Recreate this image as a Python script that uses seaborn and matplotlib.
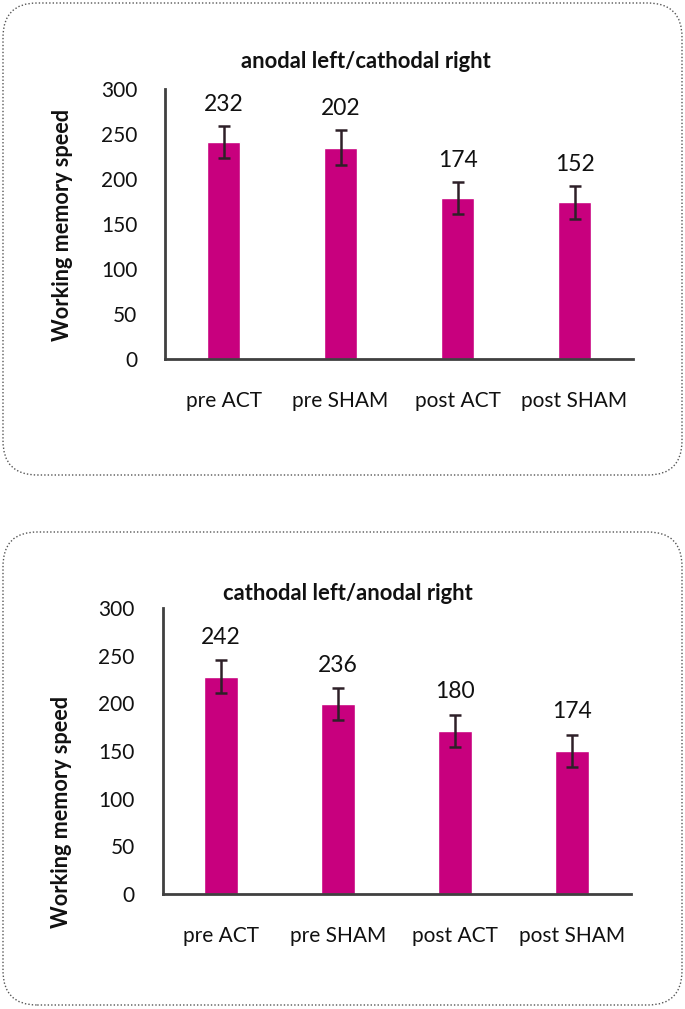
import matplotlib
matplotlib.use("Agg")
import matplotlib.pyplot as plt
import seaborn as sns
import pandas as pd
import numpy as np
from matplotlib.patches import FancyBboxPatch

categories = ["pre ACT", "pre SHAM", "post ACT", "post SHAM"]

# top panel: anodal left / cathodal right
top_title = "anodal left/cathodal right"
top_values = [241, 235, 179, 174]
top_errors = [18, 19, 18, 18]
top_labels = ["232", "202", "174", "152"]

# bottom panel: cathodal left / anodal right
bot_title = "cathodal left/anodal right"
bot_values = [228, 199, 171, 150]
bot_errors = [17, 17, 17, 17]
bot_labels = ["242", "236", "180", "174"]

y_ticks = [0, 50, 100, 150, 200, 250, 300]
y_label = "Working memory speed"

sns.set_style("white")
plt.rcParams["font.family"] = ["Lato", "DejaVu Sans"]

W, H = 685, 1009
fig = plt.figure(figsize=(W / 100, H / 100), dpi=100)

BAR = "#C8007E"
ERR = "#2E2028"
SPINE = "#404040"
TXT = "#111111"


def px_axes(l, r, t, b):
    return [l / W, 1 - b / H, (r - l) / W, (b - t) / H]


def panel(rect, values, errors, labels, title, title_xy, ylab_xy):
    ax = fig.add_axes(rect)
    df = pd.DataFrame({"cat": categories, "val": values})
    sns.barplot(data=df, x="cat", y="val", color=BAR, width=0.29,
                saturation=1, errorbar=None, ax=ax)
    xs = np.arange(len(categories))
    ax.errorbar(xs, values, yerr=errors, fmt="none", ecolor=ERR,
                elinewidth=1.8, capsize=4.5, capthick=1.8, zorder=5)
    for x, v, e, lab in zip(xs, values, errors, labels):
        ax.text(x, v + e + 24, lab, ha="center", va="center",
                fontsize=16.5, color=TXT)
    ax.set_ylim(0, 300)
    ax.set_xlim(-0.5, 3.5)
    ax.set_yticks(y_ticks)
    ax.set_xlabel("")
    ax.set_ylabel("")
    for s in ["top", "right"]:
        ax.spines[s].set_visible(False)
    for s in ["left", "bottom"]:
        ax.spines[s].set_color(SPINE)
        ax.spines[s].set_linewidth(2)
    ax.tick_params(axis="y", length=0, pad=20, labelsize=15, labelcolor=TXT)
    ax.tick_params(axis="x", length=0, pad=23, labelsize=15, labelcolor=TXT)
    ax.set_facecolor("none")
    fig.text(title_xy[0] / W, 1 - title_xy[1] / H, title, ha="center",
             va="center", fontsize=15.8, fontweight="bold", color=TXT)
    fig.text(ylab_xy[0] / W, 1 - ylab_xy[1] / H, y_label, ha="center",
             va="center", rotation=90, fontsize=15.6, fontweight="bold",
             color=TXT)
    return ax


# dotted rounded frames
for (t, b) in [(3, 475), (532, 1005)]:
    box = FancyBboxPatch((3 / W, 1 - b / H), (682 - 3) / W, (b - t) / H,
                         boxstyle="round,pad=0,rounding_size=0.05",
                         transform=fig.transFigure, fill=False,
                         edgecolor="#555555", linestyle=(0, (1, 1.5)),
                         linewidth=1.0, mutation_aspect=W / H)
    fig.patches.append(box)

panel(px_axes(165, 633, 89, 359), top_values, top_errors, top_labels,
      top_title, (366, 62), (63, 225))
panel(px_axes(162.5, 631, 608, 894), bot_values, bot_errors, bot_labels,
      bot_title, (348, 593), (61, 812))

fig.savefig("out.png", dpi=100, facecolor="white")
